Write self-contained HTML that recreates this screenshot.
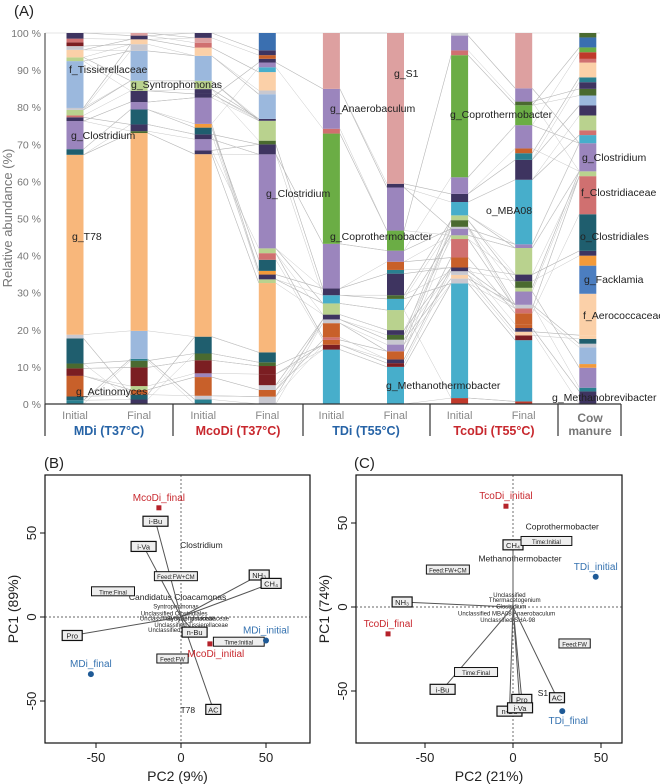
<!DOCTYPE html>
<html><head><meta charset="utf-8"><style>
body{margin:0;background:#fff}
svg{display:block;font-family:"Liberation Sans",sans-serif}
</style></head><body>
<svg id="fig" width="660" height="784" viewBox="0 0 660 784">
<text x="14" y="16" font-size="15" fill="#222">(A)</text>
<text x="44" y="468" font-size="15" fill="#222">(B)</text>
<text x="354" y="468" font-size="15" fill="#222">(C)</text>
<g id="gA"></g>
<g id="gB"></g>
<g id="gC"></g>
</svg>
<script>
const NS="http://www.w3.org/2000/svg";
const COL={T:'#F8B77B',LB:'#9BB8DD',P:'#9B85BD',LG:'#B9D28E',DT:'#1F5E6E',DR:'#7B1E22',BR:'#C8602A',N:'#3E3460',O:'#4A6A30',PK:'#DDA0A0',G:'#6BAD45',C:'#47AECB',R:'#D07070',B:'#4C7EC0',PE:'#FBD0A8',GR:'#C8C8D0',OR:'#F39A3A',RD:'#C0392B',TE:'#2A8090',BL:'#3A6FB0'};
const samples=['MDi Initial','MDi Final','McoDi Initial','McoDi Final','TDi Initial','TDi Final','TcoDi Initial','TcoDi Final','Cow manure'];
const keysMDiI=['TE','DT','BR','DR','O','DT','GR','T','DT','P','N','R','LG','GR','LB','LG','PE','GR','DR','R','N'];
const valsMDiI=[1,1,5.5,2,1.3,6.7,1,48,1.5,7.5,1,0.5,1.5,0.5,12.5,1,2,1,1,1,1.5];
const keysMDiF=['N','DT','BR','LG','DR','O','TE','LB','T','O','N','DT','P','N','LG','LB','GR','PE','N','PK'];
const valsMDiF=[1.2,1.3,1.3,1,5,1.8,0.5,7.5,53,0.5,1.8,4,2,3,2.7,8,1.8,1.3,1,0.7];
const keysMcI=['TE','GR','BR','P','DR','O','DT','T','N','P','N','DT','OR','P','N','N','LG','LB','PE','R','PK','N'];
const valsMcI=[1.2,1,5,1,3.5,1.8,4.5,48.8,1,3,1.3,1.8,1,7,1,1.3,2.2,6.7,2.2,1.3,1.3,1.3];
const keysMcF=['GR','BR','GR','DR','DR','O','DT','T','LG','N','OR','DT','R','LG','P','N','O','LG','N','LB','GR','PE','C','P','N','BR','N','BL'];
const valsMcF=[2,1.8,1.3,3,2.2,1,2.7,18.8,1,1.3,1,3,1.8,1.3,25.5,2.7,1,5.4,0.5,6.7,1,5,1.3,1.3,1,1,1.3,4.7];
const keysTI=['C','DR','BR','R','BR','GR','N','LG','C','N','P','G','R','P','PK'];
const valsTI=[14.6,1.3,1.3,0.7,3.8,1,1.3,3,2.2,1.8,12,29.6,1.3,10.7,15];
const keysTF=['C','DR','N','BR','P','GR','O','N','LG','C','O','N','TE','BR','P','G','P','N','PK'];
const valsTF=[10,1,1,2.2,1.8,1.3,1.3,1.3,5.4,3,1,5.8,1,2.2,3,5.4,11.6,1,40.6];
const keysTcI=['RD','C','GR','PE','GR','N','BR','R','LG','P','GR','O','LG','C','N','P','G','R','P','GR'];
const valsTcI=[1.6,31,1.3,1,1,1,2.7,5,1,1.8,0.5,1.8,1.3,3.6,2.2,4.5,33,1.3,4,0.7];
const keysTcF=['RD','C','DR','PE','N','BR','BR','R','GR','P','LG','O','N','LG','P','C','N','TE','BR','P','G','O','P','PK'];
const valsTcF=[0.7,16.6,1.3,1,1,1,3,1.3,1,3.6,1,1.8,1.8,7.2,1,17.5,5.4,1.8,1.3,6.3,5.4,1,3.6,15];
const keysCow=['N','TE','P','OR','LB','GR','DT','PE','PE','B','OR','N','DT','R','LG','P','C','R','LG','N','LB','O','N','TE','PE','R','RD','G','BL','O'];
const valsCow=[3.4,1,5.4,1,4.5,1,1.3,1,11.2,7.6,2.7,1.3,9.9,10.3,1.3,7.6,2.2,1.3,4,2.7,2.7,1.8,1.8,1.3,4,1,1.8,1.3,2.7,1.2];
const allKeys=[keysMDiI,keysMDiF,keysMcI,keysMcF,keysTI,keysTF,keysTcI,keysTcF,keysCow];
const allVals=[valsMDiI,valsMDiF,valsMcI,valsMcF,valsTI,valsTF,valsTcI,valsTcF,valsCow];
const yTicks=[0,10,20,30,40,50,60,70,80,90,100];

function el(tag,attrs,parent,txt){const e=document.createElementNS(NS,tag);for(const k in attrs)e.setAttribute(k,attrs[k]);if(txt!==undefined)e.textContent=txt;parent.appendChild(e);return e;}

const gA=document.getElementById('gA');
const Y0=404,Y1=33;
const ys=v=>Y0-(v/100)*(Y0-Y1);
const barX=i=>75+i*64.1;
const BW=17;
yTicks.forEach(t=>{
  const tl=el('text',{x:41,y:ys(t)+4,'font-size':10.5,fill:'#777','text-anchor':'end'},gA,t+' %');
  
  
});
const yt=el('text',{x:12,y:218,'font-size':13,fill:'#777','text-anchor':'middle',transform:'rotate(-90 12 218)'},gA,'Relative abundance (%)');


el('line',{x1:45,y1:Y1,x2:600,y2:Y1,stroke:'#e6e6e6'},gA);
const stacks=allVals.map((vals,i)=>{const tot=vals.reduce((a,b)=>a+b,0);let c=0;return vals.map((v,j)=>{const s={k:allKeys[i][j],b:c/tot*100,t:(c+v)/tot*100};c+=v;return s;});});
const gl=el('g',{},gA);


for(let i=0;i<stacks.length-1;i++){
  stacks[i].forEach(s=>{
    const m=(s.t+s.b)/2;let best=null,bd=1e9;
    stacks[i+1].forEach(q=>{if(q.k!==s.k)return;const d=Math.abs((q.t+q.b)/2-m);if(d<bd){bd=d;best=q;}});
    if(!best||bd>45)return;
    const ln=el('line',{x1:barX(i)+BW/2,y1:ys(s.t),x2:barX(i+1)-BW/2,y2:ys(best.t),stroke:'#b5b5b5','stroke-width':0.6},gl);
    
    
    const lb=el('line',{x1:barX(i)+BW/2,y1:ys(s.b),x2:barX(i+1)-BW/2,y2:ys(best.b),stroke:'#c8c8c8','stroke-width':0.5},gl);
    
    
  });
}
stacks.forEach((st,i)=>{
  const g=el('g',{},gA);
  
  
  st.forEach(s=>{
    const r=el('rect',{x:barX(i)-BW/2,y:ys(s.t),width:BW,height:Math.max(0.3,ys(s.b)-ys(s.t)),fill:COL[s.k]},g);
    
    
  });
});
el('line',{x1:45,y1:Y1,x2:45,y2:Y0,stroke:'#333','stroke-width':1},gA);
el('line',{x1:45,y1:Y0,x2:621,y2:Y0,stroke:'#333','stroke-width':1.2},gA);
[45,173,303,430,558,621].forEach(x=>el('line',{x1:x,y1:Y0,x2:x,y2:436,stroke:'#333','stroke-width':1.2},gA));
const stageLabels=['Initial','Final','Initial','Final','Initial','Final','Initial','Final'];
stageLabels.forEach((s,i)=>{
  const t=el('text',{x:barX(i),y:419,'font-size':11,fill:'#888','text-anchor':'middle'},gA,s);
  
  
});
const groups=[['MDi (T37°C)',109,'#2663A6'],['McoDi (T37°C)',238,'#C8282E'],['TDi (T55°C)',366,'#2663A6'],['TcoDi (T55°C)',494,'#C8282E']];
groups.forEach(g=>{
  const t=el('text',{x:g[1],y:435,'font-size':12.5,'font-weight':'bold',fill:g[2],'text-anchor':'middle'},gA,g[0]);
  
  
});
const cm1=el('text',{x:590,y:422,'font-size':12,'font-weight':'bold',fill:'#777','text-anchor':'middle'},gA,'Cow');


const cm2=el('text',{x:590,y:435,'font-size':12,'font-weight':'bold',fill:'#777','text-anchor':'middle'},gA,'manure');


const taxLabels=[['f_Tissierellaceae',69,73],['g_Syntrophomonas',131,88],['g_Clostridium',71,139],['g_T78',72,240],['g_Actinomyces',76,395],['g_Clostridium',266,197],['g_S1',394,77],['g_Anaerobaculum',330,112],['g_Coprothermobacter',330,240],['g_Methanothermobacter',386,389],['g_Coprothermobacter',450,118],['o_MBA08',486,214],['g_Clostridium',582,161],['f_Clostridiaceae',581,196],['o_Clostridiales',580,240],['g_Facklamia',584,283],['f_Aerococcaceae',583,319],['g_Methanobrevibacter',552,401]];
taxLabels.forEach(l=>{
  const t=el('text',{x:l[1],y:l[2],'font-size':10.5,fill:'#222'},gA,l[0]);
  
  
});

const pointsBNames=['MDi_initial','MDi_final','McoDi_final','McoDi_initial'];
const pointsBX=[50,-53,-13,17];
const pointsBY=[-14,-34,65,-16];
const pointsBGroup=['b','b','r','r'];
const labelBBelow=[false,false,false,true];
const arrowsBNames=['i-Bu','i-Va','NH₃','CH₄','Pro','n-Bu','AC'];
const arrowsBX=[-15,-22,46,53,-64,8,19];
const arrowsBY=[57,42,25,20,-11,-9,-55];
const factorsBNames=['Feed:FW+CM','Time:Final','Time:Initial','Feed:FW'];
const factorsBX=[-3,-40,34,-5];
const factorsBY=[24,15,-15,-25];
const speciesBNames=['Clostridium','T78','Candidatus Cloacamonas','Syntrophomonas','Unclassified Clostridiales','Unclassified Synergistaceae','Syntrophomonadaceae','Unclassified Tissierellaceae','Unclassified SB1'];
const speciesBX=[12,4,-2,-3,-4,-2,10,6,-6];
const speciesBY=[41,-57,10,5,1,-2,-2,-6,-9];

const pointsCNames=['TcoDi_initial','TcoDi_final','TDi_initial','TDi_final'];
const pointsCX=[-4,-71,47,28];
const pointsCY=[60,-16,18,-62];
const pointsCGroup=['r','r','b','b'];
const labelCBelow=[false,false,false,true];
const arrowsCNames=['CH₄','NH₃','i-Bu','n-Bu','Pro','i-Va','AC'];
const arrowsCX=[0,-63,-40,-2,5,4,25];
const arrowsCY=[37,3,-49,-62,-55,-60,-54];
const factorsCNames=['Time:Initial','Feed:FW+CM','Feed:FW','Time:Final'];
const factorsCX=[19,-37,35,-21];
const factorsCY=[39,22,-22,-39];
const speciesCNames=['Coprothermobacter','Methanothermobacter','S1','Unclassified','Thermacetogenium','Clostridium','Unclassified MBA08','Anaerobaculum','Unclassified SHA-98'];
const speciesCX=[28,4,17,-2,1,-1,-16,12,-3];
const speciesCY=[46,27,-53,6,3,-1,-5,-5,-9];

function pca(g,cfg){
  const {x0,x1,y0,y1,cx,cy,sx,sy,xt,yt,pN,pX,pY,pG,pB,aN,aX,aY,fN,fX,fY,sN,sX,sY,xTitle,yTitle}=cfg;
  const X=v=>cx+v*sx, Y=v=>cy-v*sy;
  const fr=el('rect',{x:x0,y:y0,width:x1-x0,height:y1-y0,fill:'none',stroke:'#111','stroke-width':1.2},g);
  
  
  el('line',{x1:x0,y1:cy,x2:x1,y2:cy,stroke:'#333','stroke-width':0.7,'stroke-dasharray':'2,2'},g);
  el('line',{x1:cx,y1:y0,x2:cx,y2:y1,stroke:'#333','stroke-width':0.7,'stroke-dasharray':'2,2'},g);
  xt.forEach(t=>{
    el('line',{x1:X(t),y1:y1,x2:X(t),y2:y1+5,stroke:'#111'},g);
    const tl=el('text',{x:X(t),y:y1+19,'font-size':13,fill:'#222','text-anchor':'middle'},g,t);
    
    
  });
  yt.forEach(t=>{
    el('line',{x1:x0-5,y1:Y(t),x2:x0,y2:Y(t),stroke:'#111'},g);
    const tx=x0-9;
    const tl=el('text',{x:tx,y:Y(t),'font-size':13,fill:'#222','text-anchor':'middle',transform:`rotate(-90 ${tx} ${Y(t)})`},g,t);
    
    
  });
  const xtl=el('text',{x:(x0+x1)/2,y:y1+38,'font-size':14,fill:'#222','text-anchor':'middle'},g,xTitle);
  
  
  const yx=x0-27,yy=(y0+y1)/2;
  const ytl=el('text',{x:yx,y:yy,'font-size':14,fill:'#222','text-anchor':'middle',transform:`rotate(-90 ${yx} ${yy})`},g,yTitle);
  
  
  sN.forEach((s,i)=>{
    const big=i<3;
    const t=el('text',{x:X(sX[i]),y:Y(sY[i]),'font-size':big?8.5:6,fill:'#222','text-anchor':'middle'},g,s);
    
    
  });
  aN.forEach((a,i)=>{
    const ln=el('line',{x1:cx,y1:cy,x2:X(aX[i]),y2:Y(aY[i]),stroke:'#555','stroke-width':1},g);
    
    
  });
  aN.forEach((a,i)=>{
    const w=a.length*5+5;
    const bx=el('rect',{x:X(aX[i])-w/2,y:Y(aY[i])-5,width:w,height:10,fill:'#eee',stroke:'#111','stroke-width':1.2},g);
    
    
    const t=el('text',{x:X(aX[i]),y:Y(aY[i])+3,'font-size':7.5,fill:'#222','text-anchor':'middle'},g,a);
    
    
  });
  fN.forEach((f,i)=>{
    const w=f.length*3.9+4;
    const bx=el('rect',{x:X(fX[i])-w/2,y:Y(fY[i])-5,width:w,height:9,fill:'#eee',stroke:'#111','stroke-width':1},g);
    
    
    const t=el('text',{x:X(fX[i]),y:Y(fY[i])+2.5,'font-size':6,fill:'#222','text-anchor':'middle'},g,f);
    
    
  });
  pN.forEach((p,i)=>{
    const c=pG[i]==='b'?'#1F5A96':'#B5222A', tc=pG[i]==='b'?'#3572B0':'#C8282E';
    let m;
    if(pG[i]==='b') m=el('circle',{cx:X(pX[i]),cy:Y(pY[i]),r:3,fill:c},g);
    else m=el('rect',{x:X(pX[i])-2.5,y:Y(pY[i])-2.5,width:5,height:5,fill:c},g);
    
    
    const t=el('text',{x:X(pX[i])+(pB[i]?6:0),y:Y(pY[i])+(pB[i]?13:-7),'font-size':10,fill:tc,'text-anchor':'middle'},g,p);
    
    
  });
}
pca(document.getElementById('gB'),{x0:45,x1:310,y0:475,y1:743,cx:181,cy:617,sx:1.7,sy:1.68,xt:[-50,0,50],yt:[-50,0,50],pN:pointsBNames,pX:pointsBX,pY:pointsBY,pG:pointsBGroup,pB:labelBBelow,aN:arrowsBNames,aX:arrowsBX,aY:arrowsBY,fN:factorsBNames,fX:factorsBX,fY:factorsBY,sN:speciesBNames,sX:speciesBX,sY:speciesBY,xTitle:'PC2 (9%)',yTitle:'PC1 (89%)'});
pca(document.getElementById('gC'),{x0:356,x1:622,y0:475,y1:743,cx:513,cy:607,sx:1.76,sy:1.68,xt:[-50,0,50],yt:[-50,0,50],pN:pointsCNames,pX:pointsCX,pY:pointsCY,pG:pointsCGroup,pB:labelCBelow,aN:arrowsCNames,aX:arrowsCX,aY:arrowsCY,fN:factorsCNames,fX:factorsCX,fY:factorsCY,sN:speciesCNames,sX:speciesCX,sY:speciesCY,xTitle:'PC2 (21%)',yTitle:'PC1 (74%)'});
</script>
</body></html>
